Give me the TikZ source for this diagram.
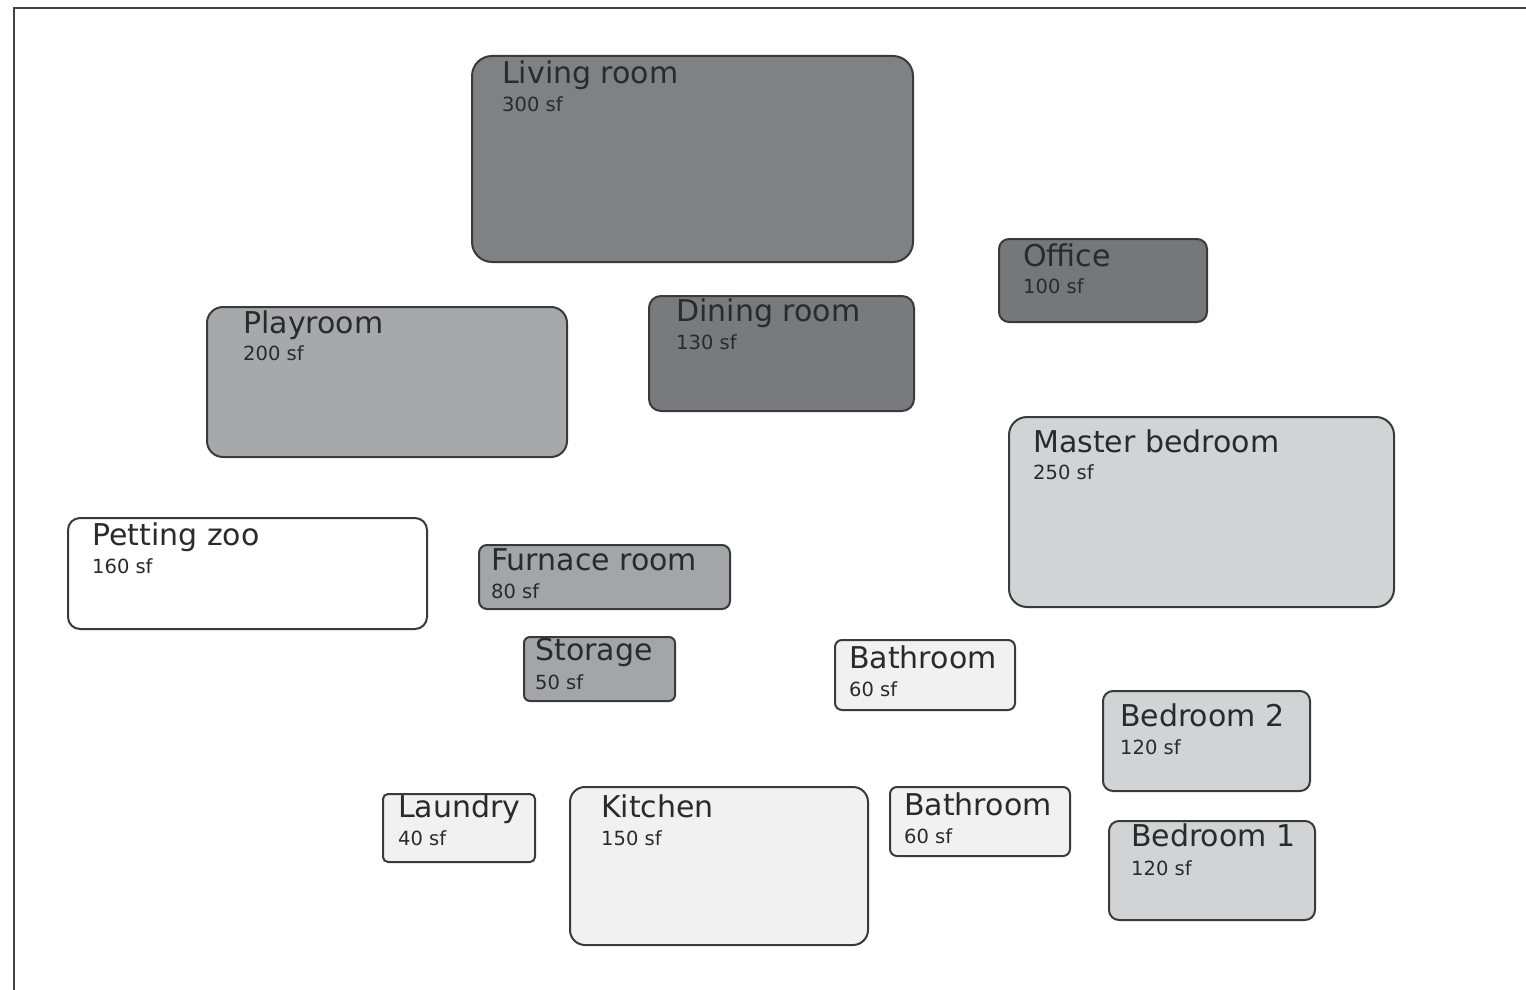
\documentclass[tikz,border=0pt]{standalone}
\usepackage{fontspec}
\setmainfont{DejaVu Sans}
\definecolor{edge}{HTML}{3A3A3A}
\definecolor{frame}{HTML}{444444}
\definecolor{ink}{HTML}{2A2A2A}
\definecolor{gA}{HTML}{7F8184}
\definecolor{gB}{HTML}{76777A}
\definecolor{gC}{HTML}{797A7D}
\definecolor{gD}{HTML}{A6A8AB}
\definecolor{gE}{HTML}{A3A5A8}
\definecolor{gF}{HTML}{D1D3D5}
\definecolor{gG}{HTML}{F1F1F2}
\tikzset{
  room/.style={draw=edge, line width=2pt, anchor=north west, inner sep=0pt},
  ttl/.style={anchor=base west, inner sep=0pt, text=ink, font=\fontsize{30}{33}\selectfont},
  sub/.style={anchor=base west, inner sep=0pt, text=ink, font=\fontsize{19.5}{22}\selectfont},
}
\newcommand{\roombox}[7]{%
  % #1 name, #2 x, #3 y, #4 w, #5 h, #6 fill, #7 radius
  \node[room, fill=#6, rounded corners=#7, minimum width=#4, minimum height=#5] (#1) at (#2,#3) {};
}
\begin{document}
\begin{tikzpicture}[x=1pt,y=-1pt]
\useasboundingbox (0,0) rectangle (1526,990);
\draw[frame, line width=2.5pt] (14,990) -- (14,8) -- (1526,8);

\roombox{lr}{471}{55}{441}{206}{gA}{20pt}
\roombox{of}{998}{238}{208}{83}{gB}{10pt}
\roombox{pl}{206}{306}{360}{150}{gD}{16pt}
\roombox{dr}{648}{295}{265}{115}{gC}{12pt}
\roombox{mb}{1008}{416}{385}{190}{gF}{18pt}
\roombox{pz}{67}{517}{359}{111}{white}{12pt}
\roombox{fr}{478}{544}{251}{64}{gE}{8pt}
\roombox{st}{523}{636}{151}{64}{gE}{6pt}
\roombox{ba}{834}{639}{180}{70}{gG}{7pt}
\roombox{bt}{1102}{690}{207}{100}{gF}{10pt}
\roombox{la}{382}{793}{152}{68}{gG}{5pt}
\roombox{ki}{569}{786}{298}{158}{gG}{15pt}
\roombox{bb}{889}{786}{180}{69}{gG}{7pt}
\roombox{bo}{1108}{820}{206}{99}{gF}{10pt}

\node[ttl] (lrT) at ([shift={(31,28)}]lr.north west) {Living room};
\node[sub] (lrS) at ([shift={(31,56)}]lr.north west) {300 sf};
\node[ttl] (ofT) at ([shift={(25,28)}]of.north west) {Office};
\node[sub] (ofS) at ([shift={(25,55)}]of.north west) {100 sf};
\node[ttl] (plT) at ([shift={(37,27)}]pl.north west) {Playroom};
\node[sub] (plS) at ([shift={(37,54)}]pl.north west) {200 sf};
\node[ttl] (drT) at ([shift={(28,26)}]dr.north west) {Dining room};
\node[sub] (drS) at ([shift={(28,54)}]dr.north west) {130 sf};
\node[ttl] (mbT) at ([shift={(25,36)}]mb.north west) {Master bedroom};
\node[sub] (mbS) at ([shift={(25,63)}]mb.north west) {250 sf};
\node[ttl] (pzT) at ([shift={(25,28)}]pz.north west) {Petting zoo};
\node[sub] (pzS) at ([shift={(25,56)}]pz.north west) {160 sf};
\node[ttl] (frT) at ([shift={(13,26)}]fr.north west) {Furnace room};
\node[sub] (frS) at ([shift={(13,54)}]fr.north west) {80 sf};
\node[ttl] (stT) at ([shift={(12,24)}]st.north west) {Storage};
\node[sub] (stS) at ([shift={(12,53)}]st.north west) {50 sf};
\node[ttl] (baT) at ([shift={(15,29)}]ba.north west) {Bathroom};
\node[sub] (baS) at ([shift={(15,57)}]ba.north west) {60 sf};
\node[ttl] (btT) at ([shift={(18,36)}]bt.north west) {Bedroom 2};
\node[sub] (btS) at ([shift={(18,64)}]bt.north west) {120 sf};
\node[ttl] (laT) at ([shift={(16,24)}]la.north west) {Laundry};
\node[sub] (laS) at ([shift={(16,52)}]la.north west) {40 sf};
\node[ttl] (kiT) at ([shift={(32,31)}]ki.north west) {Kitchen};
\node[sub] (kiS) at ([shift={(32,59)}]ki.north west) {150 sf};
\node[ttl] (bbT) at ([shift={(15,29)}]bb.north west) {Bathroom};
\node[sub] (bbS) at ([shift={(15,57)}]bb.north west) {60 sf};
\node[ttl] (boT) at ([shift={(23,26)}]bo.north west) {Bedroom 1};
\node[sub] (boS) at ([shift={(23,55)}]bo.north west) {120 sf};
\end{tikzpicture}
\end{document}
